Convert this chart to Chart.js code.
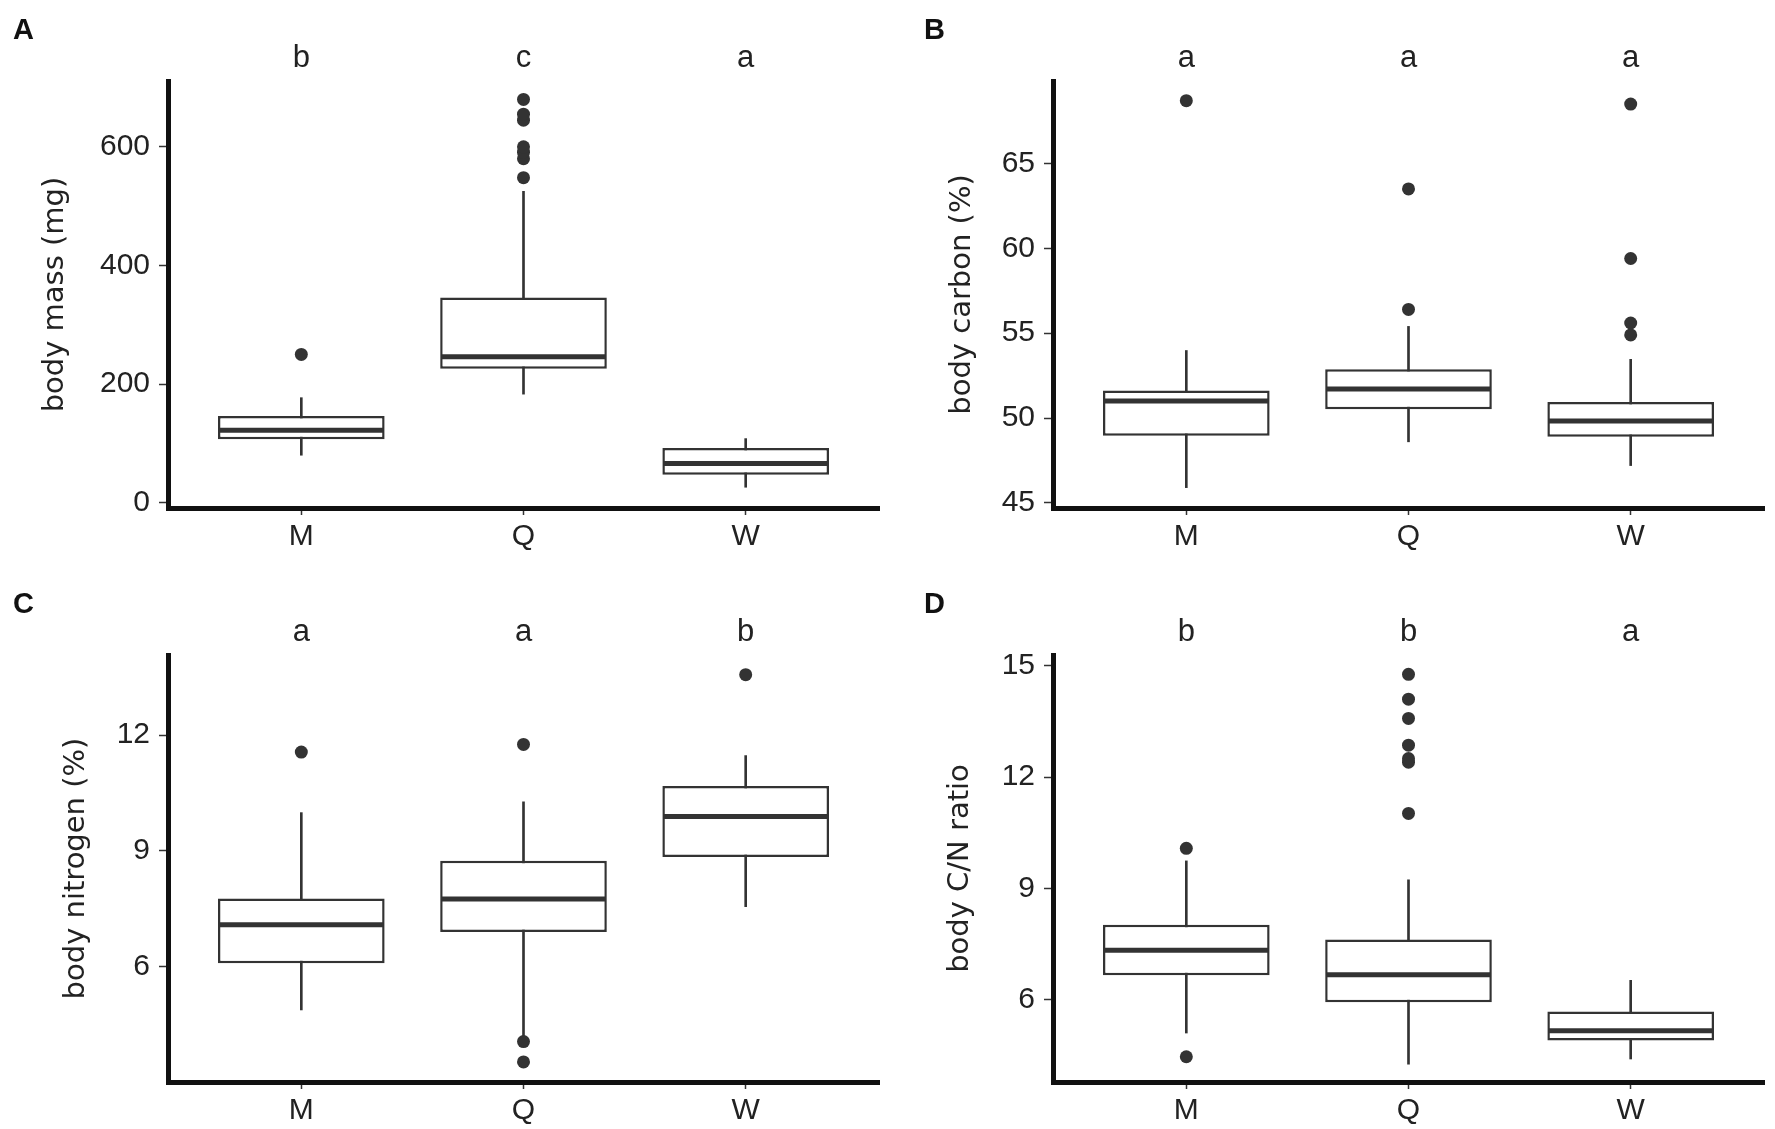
<!DOCTYPE html>
<html>
<head>
<meta charset="utf-8">
<script src="https://cdn.jsdelivr.net/npm/chart.js@4.4.1/dist/chart.umd.min.js"></script>
<style>
  html, body { margin: 0; padding: 0; background: #fff; }
  #wrap { position: relative; width: 1775px; height: 1129px; background: #fff; }
  canvas { position: absolute; }
</style>
</head>
<body>
<div id="wrap">
  <canvas id="panelA" width="887" height="555" style="left:0px;top:0px;width:887px;height:555px"></canvas>
  <canvas id="panelB" width="887" height="555" style="left:885px;top:0px;width:887px;height:555px"></canvas>
  <canvas id="panelC" width="887" height="555" style="left:0px;top:574px;width:887px;height:555px"></canvas>
  <canvas id="panelD" width="887" height="555" style="left:885px;top:574px;width:887px;height:555px"></canvas>
</div>
<script>
const groups = ['M', 'Q', 'W'];

// A - body mass (mg)
const massLow = [80, 183, 26];
const massQ1 = [107, 226, 47];
const massMedian = [122, 246, 66];
const massQ3 = [146, 346, 92];
const massHigh = [177, 525, 108];
const massOutliers = [[250], [548, 580, 591, 600, 645, 655, 680], []];
const massLetters = ['b', 'c', 'a'];
const massTicks = [0, 200, 400, 600];

// B - body carbon (%)
const carbonLow = [45.9, 48.6, 47.2];
const carbonQ1 = [48.95, 50.52, 48.9];
const carbonMedian = [51.0, 51.71, 49.83];
const carbonQ3 = [51.63, 52.87, 50.94];
const carbonHigh = [53.98, 55.4, 53.46];
const carbonOutliers = [[68.7], [56.4, 63.5], [54.9, 55.6, 59.4, 68.5]];
const carbonLetters = ['a', 'a', 'a'];
const carbonTicks = [45, 50, 55, 60, 65];

// C - body nitrogen (%)
const nitrogenLow = [4.87, 4.2, 7.55];
const nitrogenQ1 = [6.08, 6.89, 8.84];
const nitrogenMedian = [7.08, 7.75, 9.89];
const nitrogenQ3 = [7.76, 8.74, 10.68];
const nitrogenHigh = [9.99, 10.27, 11.47];
const nitrogenOutliers = [[11.56], [3.52, 4.05, 11.76], [13.57]];
const nitrogenLetters = ['a', 'a', 'b'];
const nitrogenTicks = [6, 9, 12];

// D - body C/N ratio
const cnLow = [5.10, 4.26, 4.40];
const cnQ1 = [6.66, 5.93, 4.90];
const cnMedian = [7.33, 6.67, 5.16];
const cnQ3 = [8.02, 7.62, 5.68];
const cnHigh = [9.74, 9.23, 6.52];
const cnOutliers = [[4.46, 10.08], [11.02, 12.40, 12.50, 12.86, 13.58, 14.10, 14.77], []];
const cnLetters = ['b', 'b', 'a'];
const cnTicks = [6, 9, 12, 15];

const INK = '#333333';
const TEXT = '#222222';

// demi-largeur de la boîte en pixels (0.75 unité de catégorie)
function halfBox(chart) {
  const s = chart.scales.x;
  return s.getPixelForValue(1.375) - s.getPixelForValue(1) - 1.5;
}

function makePanel(id, p) {
  const whiskers = groups.map((g, i) => ({ x: i + 1, y: [p.low[i], p.high[i]] }));
  const boxes = groups.map((g, i) => ({ x: i + 1, y: [p.q1[i], p.q3[i]] }));
  const medians = groups.map((g, i) => ({ x: i + 1, y: p.median[i] }));
  const outliers = [];
  p.outliers.forEach((vals, i) => vals.forEach(v => outliers.push({ x: i + 1, y: v })));

  const tickFont = { family: 'Liberation Sans, Arial, sans-serif', size: 30 };

  return new Chart(document.getElementById(id), {
    type: 'bar',
    data: {
      datasets: [
        {
          type: 'scatter', data: outliers, order: 1, xAxisID: 'x', yAxisID: 'y',
          pointRadius: 6.5, pointBackgroundColor: INK, pointBorderWidth: 0
        },
        {
          type: 'scatter', data: medians, order: 2, xAxisID: 'x', yAxisID: 'y',
          pointStyle: 'line', pointRadius: ctx => halfBox(ctx.chart),
          pointBorderColor: INK, pointBorderWidth: 5
        },
        {
          data: boxes, order: 3, xAxisID: 'x', yAxisID: 'y', grouped: false,
          backgroundColor: '#ffffff', borderColor: INK, borderWidth: 2.5,
          borderSkipped: false, categoryPercentage: 1, barPercentage: 0.75
        },
        {
          data: whiskers, order: 4, xAxisID: 'x', yAxisID: 'y', grouped: false,
          backgroundColor: INK, borderWidth: 0, barThickness: 2
        }
      ]
    },
    options: {
      responsive: false,
      animation: false,
      events: [],
      layout: { padding: { left: p.labelLeft, right: 8, top: 0, bottom: 0 } },
      plugins: {
        legend: { display: false },
        tooltip: { enabled: false },
        title: {
          display: true, text: p.label, align: 'start', color: '#111',
          font: { family: 'Liberation Sans, Arial, sans-serif', size: 29, weight: 'bold', lineHeight: 0.5 },
          padding: { top: 24, bottom: 0 }
        }
      },
      scales: {
        x: {
          type: 'linear', position: 'bottom', min: 0.4, max: 3.6, offset: false,
          afterBuildTicks: s => { s.ticks = groups.map((g, i) => ({ value: i + 1 })); },
          afterFit: s => { s.height = 47; },
          ticks: {
            autoSkip: false, maxRotation: 0, padding: 4, color: TEXT, font: tickFont,
            callback: (v, i) => groups[i]
          },
          grid: { offset: false, drawOnChartArea: false, drawTicks: true, tickLength: 7, tickColor: INK, tickWidth: 1.5 },
          border: { display: true, color: '#111', width: 5 }
        },
        xTop: {
          type: 'linear', axis: 'x', position: 'top', min: 0.4, max: 3.6, offset: false,
          afterBuildTicks: s => { s.ticks = groups.map((g, i) => ({ value: i + 1 })); },
          afterFit: s => { s.height = 42.5; },
          ticks: {
            autoSkip: false, maxRotation: 0, padding: 4, color: TEXT,
            font: { family: 'Liberation Sans, Arial, sans-serif', size: 31 },
            callback: (v, i) => p.letters[i]
          },
          grid: { display: false, drawTicks: false },
          border: { display: false }
        },
        y: {
          type: 'linear', position: 'left', min: p.min, max: p.max,
          afterBuildTicks: s => { s.ticks = p.ticks.map(v => ({ value: v })); },
          afterFit: s => { s.width = 168 - p.labelLeft; },
          ticks: { padding: 9, color: TEXT, font: tickFont, callback: v => String(v) },
          grid: { drawOnChartArea: false, drawTicks: true, tickLength: 9, tickColor: INK, tickWidth: 1.5 },
          border: { display: true, color: '#111', width: 5 },
          title: {
            display: true, text: p.title, color: TEXT,
            font: { family: 'DejaVu Sans, sans-serif', size: 29, lineHeight: 1.2 },
            padding: { top: p.titlePad, bottom: 0 }
          }
        }
      }
    }
  });
}

makePanel('panelA', {
  label: 'A', title: 'body mass (mg)', labelLeft: 13, titlePad: 24.6,
  low: massLow, q1: massQ1, median: massMedian, q3: massQ3, high: massHigh,
  outliers: massOutliers, letters: massLetters, ticks: massTicks, min: -9, max: 711
});
makePanel('panelB', {
  label: 'B', title: 'body carbon (%)', labelLeft: 39, titlePad: 20.6,
  low: carbonLow, q1: carbonQ1, median: carbonMedian, q3: carbonQ3, high: carbonHigh,
  outliers: carbonOutliers, letters: carbonLetters, ticks: carbonTicks, min: 44.7, max: 69.86
});
makePanel('panelC', {
  label: 'C', title: 'body nitrogen (%)', labelLeft: 13, titlePad: 46.1,
  low: nitrogenLow, q1: nitrogenQ1, median: nitrogenMedian, q3: nitrogenQ3, high: nitrogenHigh,
  outliers: nitrogenOutliers, letters: nitrogenLetters, ticks: nitrogenTicks, min: 3.0, max: 14.08
});
makePanel('panelD', {
  label: 'D', title: 'body C/N ratio', labelLeft: 39, titlePad: 18.6,
  low: cnLow, q1: cnQ1, median: cnMedian, q3: cnQ3, high: cnHigh,
  outliers: cnOutliers, letters: cnLetters, ticks: cnTicks, min: 3.78, max: 15.29
});
</script>
</body>
</html>
